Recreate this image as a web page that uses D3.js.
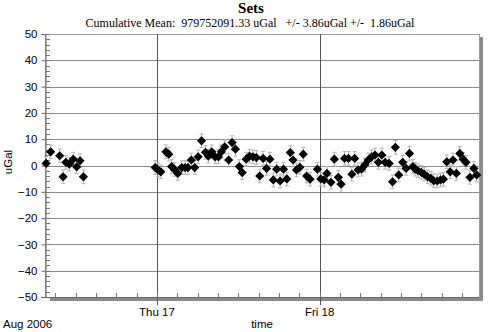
<!DOCTYPE html>
<html>
<head>
<meta charset="utf-8">
<script src="https://cdn.jsdelivr.net/npm/d3@7"></script>
<style>
  html, body { margin: 0; padding: 0; background: #fff; }
  svg { display: block; }
</style>
</head>
<body>
<svg id="chart" width="500" height="332"></svg>
<script>
// Gravity set means (uGal, relative to cumulative mean) at each set time
const setTimes = [
  "2006-08-16T07:40", "2006-08-16T08:20", "2006-08-16T09:40", "2006-08-16T10:10", "2006-08-16T10:35",
  "2006-08-16T11:05", "2006-08-16T11:40", "2006-08-16T12:10", "2006-08-16T12:40", "2006-08-16T13:10",
  "2006-08-16T23:45", "2006-08-17T00:10", "2006-08-17T00:35", "2006-08-17T01:20", "2006-08-17T01:45",
  "2006-08-17T02:10", "2006-08-17T02:35", "2006-08-17T03:05", "2006-08-17T03:40", "2006-08-17T04:10",
  "2006-08-17T04:35", "2006-08-17T05:05", "2006-08-17T05:35", "2006-08-17T06:05", "2006-08-17T06:35",
  "2006-08-17T07:10", "2006-08-17T07:35", "2006-08-17T08:05", "2006-08-17T08:35", "2006-08-17T09:05",
  "2006-08-17T09:30", "2006-08-17T10:00", "2006-08-17T10:35", "2006-08-17T11:05", "2006-08-17T11:35",
  "2006-08-17T12:10", "2006-08-17T12:35", "2006-08-17T13:10", "2006-08-17T13:40", "2006-08-17T14:10",
  "2006-08-17T14:40", "2006-08-17T15:10", "2006-08-17T15:40", "2006-08-17T16:10", "2006-08-17T16:40",
  "2006-08-17T17:10", "2006-08-17T17:40", "2006-08-17T18:10", "2006-08-17T18:40", "2006-08-17T19:10",
  "2006-08-17T19:40", "2006-08-17T20:05", "2006-08-17T20:35", "2006-08-17T21:05", "2006-08-17T21:35",
  "2006-08-17T22:05", "2006-08-17T22:35", "2006-08-17T23:40", "2006-08-18T00:10", "2006-08-18T00:40",
  "2006-08-18T01:05", "2006-08-18T01:40", "2006-08-18T02:10", "2006-08-18T02:45", "2006-08-18T03:10",
  "2006-08-18T03:40", "2006-08-18T04:15", "2006-08-18T04:45", "2006-08-18T05:10", "2006-08-18T05:40",
  "2006-08-18T06:10", "2006-08-18T06:40", "2006-08-18T07:10", "2006-08-18T07:40", "2006-08-18T08:10",
  "2006-08-18T08:40", "2006-08-18T09:10", "2006-08-18T09:40", "2006-08-18T10:15", "2006-08-18T10:45",
  "2006-08-18T11:10", "2006-08-18T11:40", "2006-08-18T12:15", "2006-08-18T12:45", "2006-08-18T13:15",
  "2006-08-18T13:45", "2006-08-18T14:05", "2006-08-18T14:30", "2006-08-18T15:00", "2006-08-18T15:25",
  "2006-08-18T15:55", "2006-08-18T16:25", "2006-08-18T16:50", "2006-08-18T17:20", "2006-08-18T17:50",
  "2006-08-18T18:15", "2006-08-18T18:45", "2006-08-18T19:15", "2006-08-18T19:40", "2006-08-18T20:10",
  "2006-08-18T20:40", "2006-08-18T21:10", "2006-08-18T21:35", "2006-08-18T22:10", "2006-08-18T22:45",
  "2006-08-18T23:10"
];
const setValues = [
  0.8, 5.2, 3.7, -4.3, 1.2,
  0.5, 2.4, -0.5, 1.8, -4.3,
  -0.8, -1.7, -2.4, 5.2, 4.3,
  -0.4, -1.5, -3.0, -0.8, -0.8,
  -0.8, 2.1, -0.8, 3.3, 9.4,
  5.0, 3.6, 5.2, 3.3, 3.3,
  5.2, 7.1, 2.1, 8.7, 6.2,
  -0.4, -2.7, 2.4, 3.6, 3.3,
  3.0, -4.0, 2.7, -1.1, 2.4,
  -5.5, -1.4, -5.9, -1.4, -5.1,
  4.9, 2.1, -1.7, -0.7, 4.3,
  -4.0, -5.2, -1.4, -5.1, -5.5,
  -3.0, -6.4, 2.4, -4.5, -7.1,
  2.7, 2.7, -3.3, 2.7, -1.7,
  -1.4, 0.2, 2.1, 3.3, 4.0,
  1.2, 4.0, 1.2, 0.8, -6.2,
  6.9, -3.6, 1.2, -1.1, 4.6,
  -0.4, -1.4, -2.0, -2.6, -3.3,
  -4.3, -4.9, -5.8, -5.9, -5.5,
  -5.2, 1.4, -2.4, 2.1, -3.0,
  4.6, 2.4, 1.2, -4.5, -1.1,
  -3.6
];
// Set scatter (one standard error), same for every set
const setError = 2.6;

const yTicks = [50, 40, 30, 20, 10, 0, -10, -20, -30, -40, -50];
const dayTicks = ["2006-08-17T00:00", "2006-08-18T00:00"];
const dayLabels = ["Thu 17", "Fri 18"];
const timeDomain = ["2006-08-16T07:30", "2006-08-18T23:30"];

const titleText = "Sets";
const subtitleText = "Cumulative Mean:  979752091.33 uGal   +/- 3.86uGal +/-  1.86uGal";

const parse = d3.timeParse("%Y-%m-%dT%H:%M");
const data = setTimes.map((t, i) => ({ t: parse(t), v: setValues[i] }));

const svg = d3.select("#chart");
const L = 45, R = 479, T = 34, B = 297;
const sans = "'Liberation Sans', Arial, sans-serif";
const serif = "'Liberation Serif', 'Times New Roman', serif";

const x = d3.scaleTime().domain(timeDomain.map(parse)).range([L, R]);
const y = d3.scaleLinear().domain([-50, 50]).range([B, T]);

// drop shadow of plot frame
svg.append("rect").attr("x", R).attr("y", T + 3).attr("width", 4).attr("height", B - T + 1).attr("fill", "#8a8a8a");
svg.append("rect").attr("x", L + 5).attr("y", B).attr("width", R - L - 1).attr("height", 4).attr("fill", "#8a8a8a");

// plot background + frame
svg.append("rect").attr("x", L).attr("y", T).attr("width", R - L).attr("height", B - T)
  .attr("fill", "#fff").attr("stroke", "#9a9a9a").attr("stroke-width", 1).attr("shape-rendering", "crispEdges");

// horizontal grid
svg.append("g").selectAll("line").data(yTicks.filter(v => v > -50 && v < 50)).join("line")
  .attr("x1", L).attr("x2", R).attr("y1", d => Math.round(y(d)) + 0.5).attr("y2", d => Math.round(y(d)) + 0.5)
  .attr("stroke", "#8c8c8c").attr("stroke-width", 1);

// vertical day lines
svg.append("g").selectAll("line").data(dayTicks.map(parse)).join("line")
  .attr("x1", d => Math.round(x(d)) + 0.5).attr("x2", d => Math.round(x(d)) + 0.5)
  .attr("y1", T).attr("y2", B + 8)
  .attr("stroke", "#555").attr("stroke-width", 1);

// y axis: major ticks outside, minor ticks inside
const yAxis = d3.axisLeft(y).tickValues(yTicks).tickSize(4).tickPadding(4);
const gy = svg.append("g").attr("transform", `translate(${L + 0.5},0)`).call(yAxis);
gy.select(".domain").attr("stroke", "#666");
gy.selectAll(".tick line").attr("stroke", "#666");
gy.selectAll(".tick text").attr("font-family", sans).attr("font-size", 11.5).attr("fill", "#000");
const minorY = d3.range(-50, 50.01, 2);
svg.append("g").selectAll("line").data(minorY).join("line")
  .attr("x1", L).attr("x2", L + 5).attr("y1", d => Math.round(y(d)) + 0.5).attr("y2", d => Math.round(y(d)) + 0.5)
  .attr("stroke", "#777").attr("stroke-width", 1);

// x axis: 3-hourly minor ticks along the bottom
const xMinor = d3.timeHour.every(3).range(x.domain()[0], x.domain()[1]);
svg.append("g").selectAll("line").data(xMinor).join("line")
  .attr("x1", d => Math.round(x(d)) + 0.5).attr("x2", d => Math.round(x(d)) + 0.5)
  .attr("y1", B - 4).attr("y2", B)
  .attr("stroke", "#777").attr("stroke-width", 1);
svg.append("line").attr("x1", L).attr("x2", R).attr("y1", B + 0.5).attr("y2", B + 0.5).attr("stroke", "#666");

// day labels
svg.append("g").selectAll("text").data(dayTicks.map(parse)).join("text")
  .attr("x", d => x(d)).attr("y", 316).attr("text-anchor", "middle")
  .attr("font-family", sans).attr("font-size", 11.5)
  .text((d, i) => dayLabels[i]);

svg.append("text").attr("x", 3).attr("y", 328)
  .attr("font-family", sans).attr("font-size", 11.5).text("Aug 2006");
svg.append("text").attr("x", 262).attr("y", 328).attr("text-anchor", "middle")
  .attr("font-family", sans).attr("font-size", 11.5).text("time");
svg.append("text").attr("transform", "translate(12,162) rotate(-90)").attr("text-anchor", "middle")
  .attr("font-family", sans).attr("font-size", 11.5).text("uGal");

// titles
svg.append("text").attr("x", 251).attr("y", 13).attr("text-anchor", "middle")
  .attr("font-family", serif).attr("font-weight", "bold")
  .attr("font-size", 15).text(titleText);
svg.append("text").attr("x", 250).attr("y", 27).attr("text-anchor", "middle")
  .attr("font-family", serif)
  .attr("font-size", 12).attr("xml:space", "preserve").style("white-space", "pre").text(subtitleText);

// error bars
const eb = svg.append("g").attr("stroke", "#b4b4b4").attr("stroke-width", 1);
data.forEach(d => {
  const cx = x(d.t);
  const y1 = y(d.v + setError), y2 = y(d.v - setError);
  eb.append("line").attr("x1", cx).attr("x2", cx).attr("y1", y1).attr("y2", y2);
  eb.append("line").attr("x1", cx - 2).attr("x2", cx + 2).attr("y1", y1).attr("y2", y1);
  eb.append("line").attr("x1", cx - 2).attr("x2", cx + 2).attr("y1", y2).attr("y2", y2);
});

// set means as diamonds
svg.append("g").selectAll("path").data(data).join("path")
  .attr("transform", d => `translate(${x(d.t)},${y(d.v)})`)
  .attr("d", d3.symbol(d3.symbolDiamond2, 54)())
  .attr("fill", "#000");
</script>
</body>
</html>
